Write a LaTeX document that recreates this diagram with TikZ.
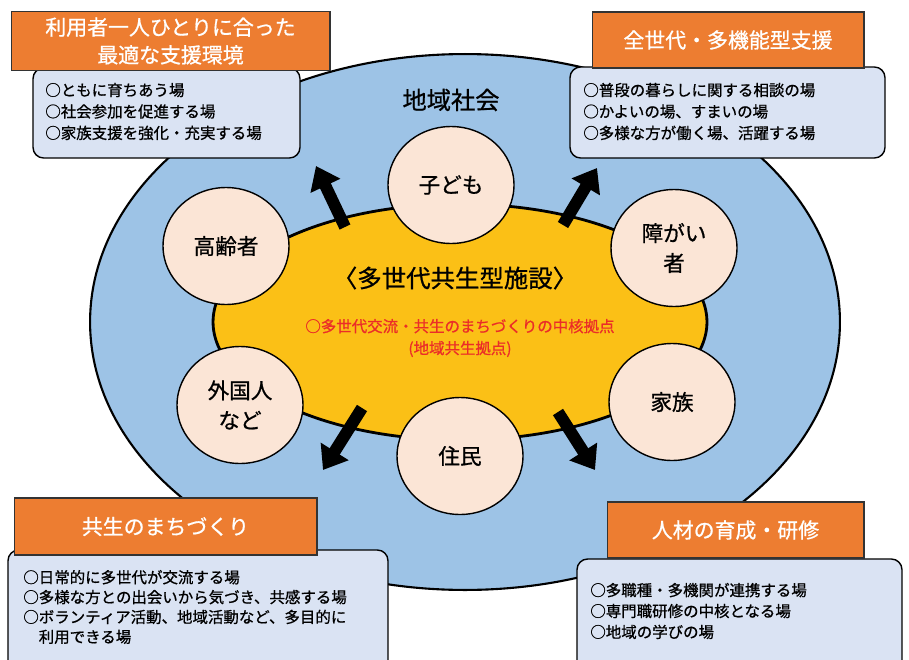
\documentclass[tikz,border=0pt]{standalone}
\usepackage{fontspec}
\setmainfont{Noto Sans CJK JP}[FakeBold=0.8]
\usetikzlibrary{shapes.geometric,arrows.meta}

\definecolor{ring}{RGB}{157,195,230}
\definecolor{core}{RGB}{251,192,22}
\definecolor{member}{RGB}{251,229,214}
\definecolor{headfill}{RGB}{237,125,49}
\definecolor{notefill}{RGB}{218,227,243}
\definecolor{hubred}{RGB}{235,45,40}

\begin{document}
\begin{tikzpicture}[x=0.02cm,y=-0.02cm,
  member/.style={draw,ellipse,fill=member,line width=0.8pt,inner sep=0pt,
    minimum width=2.52cm,minimum height=2.34cm,align=center,
    font=\fontsize{12.3}{17}\selectfont},
  headbox/.style={draw=black!80,fill=headfill,line width=0.6pt,text=white,
    align=center,font=\fontsize{11.9}{15.8}\selectfont},
  notebox/.style={draw,fill=notefill,line width=0.8pt,rounded corners=6pt},
  notetext/.style={anchor=west,inner sep=0pt,align=left,
    font=\fontsize{8.8}{12.2}\selectfont},
  outward/.style={line width=6.8pt,-{Triangle[length=12.5pt,width=18pt]}}]
  % page
  \clip (0,0) rectangle (909,659);
  \fill[white] (0,0) rectangle (909,659);
  % region and facility
  \node[draw,ellipse,fill=ring,line width=1.2pt,inner sep=0pt,
    minimum width=15cm,minimum height=10.72cm] (region) at (465,322) {};
  \node[font=\fontsize{13.8}{16}\selectfont] (regionlabel) at (451,100) {地域社会};
  \node[draw,ellipse,fill=core,line width=1.6pt,inner sep=0pt,
    minimum width=9.88cm,minimum height=4.72cm] (facility) at (460,322) {};
  % arrows
  \coordinate (ulbase) at (345,227); \coordinate (ultip) at (316,166);
  \coordinate (urbase) at (563,225); \coordinate (urtip) at (597,168);
  \coordinate (llbase) at (362,408); \coordinate (lltip) at (323,470);
  \coordinate (lrbase) at (558,412); \coordinate (lrtip) at (595,470);
  \draw[outward] (ulbase) -- (ultip);
  \draw[outward] (urbase) -- (urtip);
  \draw[outward] (llbase) -- (lltip);
  \draw[outward] (lrbase) -- (lrtip);
  % facility texts
  \node[font=\fontsize{13.9}{16}\selectfont] (facilitytitle) at (455,278) {〈多世代共生型施設〉};
  \node[text=hubred,align=center,font=\fontsize{8.8}{12.5}\selectfont] (hubtext) at (460,338)
    {○多世代交流・共生のまちづくりの中核拠点\\(地域共生拠点)};
  % members
  \node[member] (child) at (451,185) {子ども};
  \node[member] (elder) at (226,246) {高齢者};
  \node[member] (foreign) at (240,405) {外国人\\など};
  \node[member] (disabled) at (674,248) {障がい\\者};
  \node[member] (family) at (672,402) {家族};
  \node[member] (resident) at (460,456) {住民};
  % top left
  \node[notebox,minimum width=5.34cm,minimum height=1.8cm] (tlnote) at (166.5,113) {};
  \node[headbox,minimum width=6.38cm,minimum height=1.16cm] (tlhead) at (170.5,41)
    {利用者一人ひとりに合った\\最適な支援環境};
  \node[notetext] (tltext) at (45,111.5)
    {○ともに育ちあう場\\○社会参加を促進する場\\○家族支援を強化・充実する場};
  % top right
  \node[notebox,minimum width=6.3cm,minimum height=1.82cm] (trnote) at (727.5,112.5) {};
  \node[headbox,minimum width=5.44cm,minimum height=1.12cm] (trhead) at (728,40)
    {全世代・多機能型支援};
  \node[notetext] (trtext) at (583,111.5)
    {○普段の暮らしに関する相談の場\\○かよいの場、すまいの場\\○多様な方が働く場、活躍する場};
  % bottom left
  \node[notebox,minimum width=7.6cm,minimum height=2.6cm] (blnote) at (198,615) {};
  \node[headbox,minimum width=6.06cm,minimum height=1.14cm] (blhead) at (165.5,526.5)
    {共生のまちづくり};
  \node[notetext,font=\fontsize{8.8}{11.3}\selectfont] (bltext) at (23,607)
    {○日常的に多世代が交流する場\\○多様な方との出会いから気づき、共感する場\\
     ○ボランティア活動、地域活動など、多目的に\\\hspace*{1em}利用できる場};
  % bottom right
  \node[notebox,minimum width=6.5cm,minimum height=2.42cm] (brnote) at (739.5,619.5) {};
  \node[headbox,minimum width=5.14cm,minimum height=1.12cm] (brhead) at (735.5,530)
    {人材の育成・研修};
  \node[notetext,font=\fontsize{8.8}{11.9}\selectfont] (brtext) at (590,611)
    {○多職種・多機関が連携する場\\○専門職研修の中核となる場\\○地域の学びの場};
\end{tikzpicture}
\end{document}
